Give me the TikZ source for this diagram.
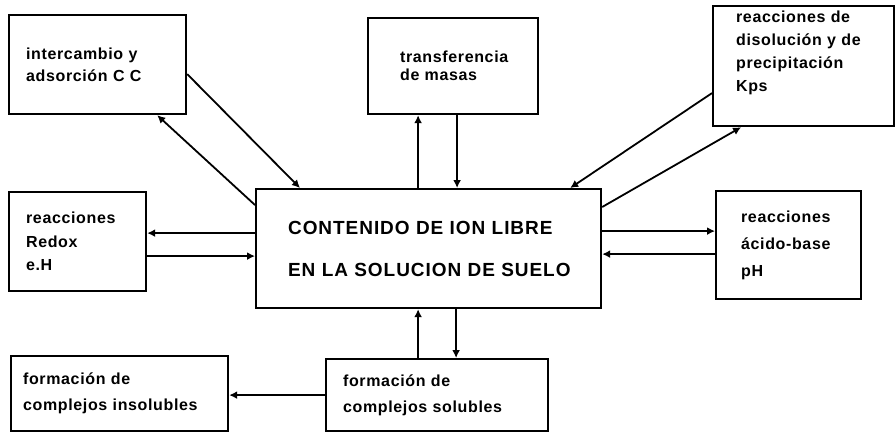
\documentclass[tikz,border=0pt]{standalone}
\usepackage{fontspec}
\usepackage{tikz}
\usetikzlibrary{arrows.meta, positioning}
\newfontfamily\boxfont[LetterSpace=4]{Liberation Sans}
\newfontfamily\mainfont[LetterSpace=5]{Liberation Sans}

\begin{document}
\begin{tikzpicture}[
  x=1pt, y=-1pt,
  box/.style={draw, line width=2.2pt, align=left, anchor=north west, inner sep=0pt},
  lsp/.style={font=\boxfont\bfseries\fontsize{16}{#1}\selectfont},
  arrow/.style={-{Latex[length=8pt, width=8pt]}, line width=1.8pt}
]
\useasboundingbox (0,0) rectangle (895,434);

% Central box
\node[box, minimum width=345, minimum height=119, text width=281,
  font=\mainfont\bfseries\fontsize{19}{42}\selectfont] (ion) at (255,188)
  {\mbox{CONTENIDO DE ION LIBRE}\\\mbox{EN LA SOLUCION DE SUELO}};

% Surrounding processes
\node[box, lsp=22, minimum width=177, minimum height=99, text width=143] (cc) at (8,14)
  {intercambio y\\adsorción C C};
\node[box, lsp=18, minimum width=170, minimum height=96, text width=106] (masas) at (367,17)
  {transferencia\\de masas};
\node[box, lsp=23, minimum width=181, minimum height=120, text width=135] (kps) at (712,5)
  {reacciones de\\disolución y de\\precipitación\\Kps\\ \strut};
\node[box, lsp=23.5, minimum width=137, minimum height=99, text width=103] (redox) at (8,191)
  {reacciones\\Redox\\e.H};
\node[box, lsp=27, minimum width=145, minimum height=108, text width=95] (acido) at (715,190)
  {reacciones\\ácido-base\\pH};
\node[box, lsp=26, minimum width=217, minimum height=75, text width=193] (insol) at (10,355)
  {formación de\\complejos insolubles};
\node[box, lsp=26, minimum width=222, minimum height=72, text width=188] (sol) at (325,358)
  {formación de\\complejos solubles};

% Intercambio
\draw[arrow] ([yshift=-9.5]cc.east) -- ([xshift=45]ion.north west);
\draw[arrow] ([yshift=-17]ion.north west) -- ([xshift=-30]cc.south east);

% Transferencia
\coordinate (m1) at ([xshift=-35]masas.south);
\coordinate (m2) at ([xshift=4]masas.south);
\draw[arrow] (m1 |- ion.north) -- (m1);
\draw[arrow] (m2) -- (m2 |- ion.north);

% Disolucion / precipitacion
\draw[arrow] ([yshift=-27]kps.west) -- ([xshift=-32]ion.north east);
\draw[arrow] ([yshift=-19]ion.north east) -- ([xshift=-62.5]kps.south);

% Redox
\coordinate (r1) at ([yshift=8.5]redox.east);
\coordinate (r2) at ([yshift=-14.5]redox.east);
\draw[arrow] (r1 -| ion.west) -- (r1);
\draw[arrow] (r2) -- (r2 -| ion.west);

% Acido-base
\coordinate (a1) at ([yshift=14]acido.west);
\coordinate (a2) at ([yshift=-9]acido.west);
\draw[arrow] (a1 -| ion.east) -- (a1);
\draw[arrow] (a2) -- (a2 -| ion.east);

% Complejos
\coordinate (s1) at ([xshift=-19]sol.north);
\coordinate (s2) at ([xshift=19]sol.north);
\draw[arrow] (s1) -- (s1 |- ion.south);
\draw[arrow] (s2 |- ion.south) -- (s2);
\draw[arrow] (sol.west) -- (sol.west -| insol.east);

\end{tikzpicture}
\end{document}
